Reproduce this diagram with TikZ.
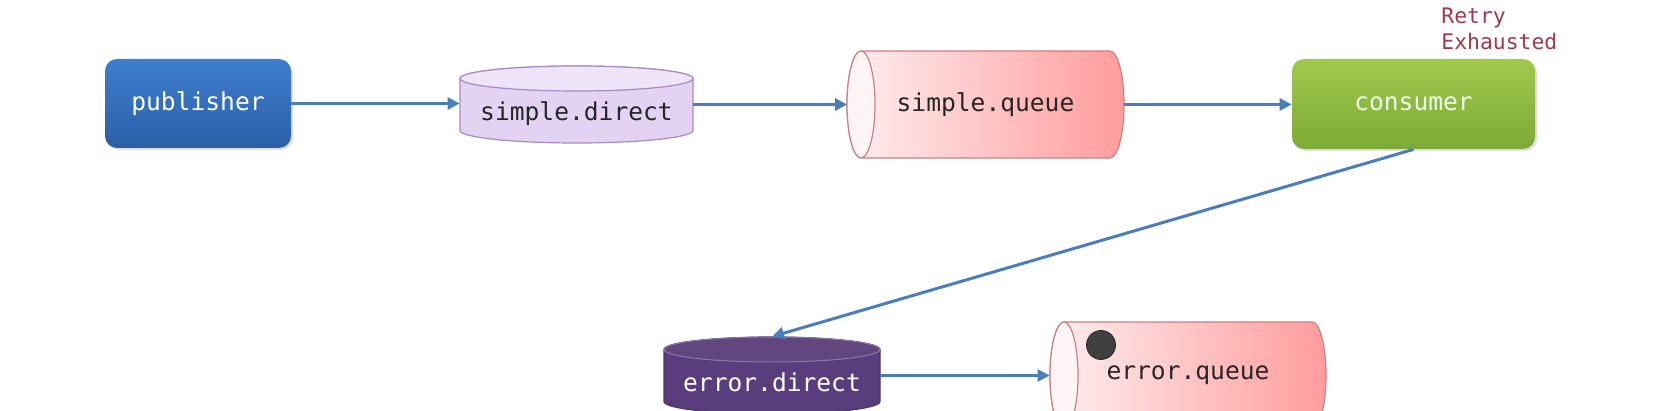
\documentclass[tikz,border=0pt]{standalone}
\usepackage{fontspec}
\setmonofont{DejaVu Sans Mono}
\usetikzlibrary{arrows.meta,shadows}

\definecolor{flowblue}{HTML}{4A7EBB}
\definecolor{pubtop}{HTML}{3F7ECE}
\definecolor{pubbot}{HTML}{2B5FA8}
\definecolor{contop}{HTML}{A0C94C}
\definecolor{conbot}{HTML}{7DAA35}
\definecolor{lavbody}{HTML}{E4D2F2}
\definecolor{lavend}{HTML}{EFE4F8}
\definecolor{lavline}{HTML}{A78BC2}
\definecolor{errbody}{HTML}{5A3D7C}
\definecolor{errend}{HTML}{62477F}
\definecolor{qlight}{HTML}{FFEEF0}
\definecolor{qdark}{HTML}{FF9C9C}
\definecolor{qline}{HTML}{C98080}
\definecolor{retryred}{HTML}{A3384A}

\begin{document}
\begin{tikzpicture}[x=0.5pt, y=-0.5pt, >={Triangle[length=6pt,width=6pt]},
    flow/.style={->, draw=flowblue, line width=1.5pt},
    txt/.style={font=\ttfamily\fontsize{12.3}{14}\selectfont},
    task/.style={txt, rectangle, rounded corners=6pt, text=white,
      drop shadow={opacity=0.25, shadow xshift=1pt, shadow yshift=-1pt}},
    exchange/.style={txt, minimum width=108pt, minimum height=38.5pt,
      text height=19pt, text depth=3pt},
    queue/.style={txt, minimum width=138pt, minimum height=53.5pt, text=black!85},
    qbody/.style={draw=qline, line width=0.6pt, left color=qlight, right color=qdark},
    qend/.style={draw=qline, line width=0.6pt, fill=qlight!60!white}]
  \useasboundingbox (0,0) rectangle (1653,411);

  % cylinders, drawn before their nodes
  \coordinate (directc) at (576.5,104.5);
  \coordinate (squeuec) at (985.5,104.5);
  \coordinate (edirectc) at (772,375.5);
  \coordinate (equeuec) at (1188,375.5);

  \filldraw[draw=lavline, line width=0.6pt, fill=lavbody]
    (460,78.5) -- (460,130.5) arc[start angle=180, end angle=360, x radius=58.25pt, y radius=6.25pt]
    -- (693,78.5) arc[start angle=0, end angle=180, x radius=58.25pt, y radius=6.25pt] -- cycle;
  \filldraw[draw=lavline, line width=0.6pt, fill=lavend] (576.5,78.5) ellipse[x radius=58.25pt, y radius=6.25pt];

  \shade[qbody]
    (861,51) -- (1110,51) arc[start angle=90, end angle=-90, x radius=7pt, y radius=26.75pt]
    -- (861,158) arc[start angle=270, end angle=90, x radius=7pt, y radius=26.75pt] -- cycle;
  \filldraw[qend] (861,104.5) ellipse[x radius=7pt, y radius=26.75pt];

  \filldraw[draw=errbody!85!black, line width=0.6pt, fill=errbody]
    (664,349.5) -- (664,401.5) arc[start angle=180, end angle=360, x radius=54pt, y radius=6.25pt]
    -- (880,349.5) arc[start angle=0, end angle=180, x radius=54pt, y radius=6.25pt] -- cycle;
  \filldraw[draw=errbody!70!white, line width=0.5pt, fill=errend] (772,349.5) ellipse[x radius=54pt, y radius=6.25pt];

  \shade[qbody]
    (1064,322) -- (1312,322) arc[start angle=90, end angle=-90, x radius=7pt, y radius=26.75pt]
    -- (1064,429) arc[start angle=270, end angle=90, x radius=7pt, y radius=26.75pt] -- cycle;
  \filldraw[qend] (1064,375.5) ellipse[x radius=7pt, y radius=26.75pt];

  % top row
  \node[task, top color=pubtop, bottom color=pubbot, minimum width=93pt,
        minimum height=44.5pt] (publisher) at (198,103.5) {publisher};
  \node[exchange, minimum width=116.5pt, text=black!85] (direct) at (directc) {simple.direct};
  \node[queue] (squeue) at (squeuec) {simple.queue};
  \node[task, top color=contop, bottom color=conbot, minimum width=121.5pt,
        minimum height=45pt, text=white!94!green] (consumer) at (1413.5,104) {consumer};
  \node[font=\ttfamily\fontsize{10.7}{12.6}\selectfont, text=retryred, align=left,
        anchor=north west, inner sep=0pt] (retry) at (1441,8) {Retry\\Exhausted};

  % bottom row
  \node[exchange, text=white] (edirect) at (edirectc) {error.direct};
  \node[queue] (equeue) at (equeuec) {error.queue};
  \node[circle, fill=black!75, draw=black!85, minimum size=14.5pt,
        inner sep=0pt] (msg) at (1101,345) {};

  % connectors
  \draw[flow] (publisher.east) -- (direct.west |- publisher.east);
  \draw[flow] (direct.east) -- (squeue.west |- direct.east);
  \draw[flow] (squeue.east) -- (consumer.west |- squeue.east);
  \draw[flow] (consumer.south) -- (edirect.north);
  \draw[flow] (edirect.east) -- (equeue.west |- edirect.east);
\end{tikzpicture}
\end{document}
